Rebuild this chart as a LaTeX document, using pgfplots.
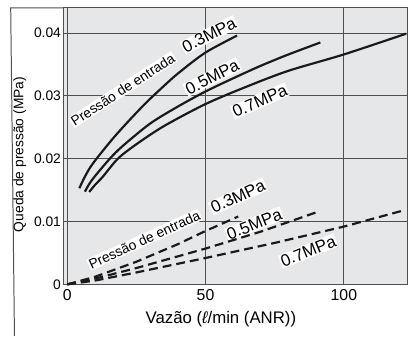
\documentclass[border=0pt]{standalone}
\usepackage{fontspec}
\setmainfont{Liberation Sans}
\usepackage{pgfplots}
\pgfplotsset{compat=1.18}
\definecolor{bggray}{HTML}{E6E7E9}
\definecolor{gridgray}{HTML}{505050}
\definecolor{curve}{HTML}{1A1A1A}
\begin{document}
\begin{tikzpicture}
\begin{axis}[
  scale only axis, width=347bp, height=279bp,
  xmin=-1.36, xmax=122.9, ymin=0, ymax=0.044,
  clip=false,
  scaled y ticks=false, scaled x ticks=false,
  axis background/.style={fill=bggray},
  xtick={0,50,100}, xticklabels={0,50,100},
  ytick={0,0.01,0.02,0.03,0.04}, yticklabels={0,0.01,0.02,0.03,0.04},
  tick style={draw=none},
  grid=major, major grid style={gridgray, line width=1bp},
  axis line style={gridgray, line width=1bp},
  /pgf/number format/assume math mode=true,
  x tick label style={font=\fontsize{16}{18}\selectfont, yshift=-2bp},
  y tick label style={font=\fontsize{14}{16}\selectfont, xshift=1bp},
  every axis x label/.style={at={(axis description cs:0.458,-0.125)}, anchor=center, font=\fontsize{17}{19}\selectfont},
  every axis y label/.style={at={(axis description cs:-0.127,0.47)}, rotate=90, anchor=center, font=\fontsize{14}{16}\selectfont},
  xlabel={Vazão ({\itshape ℓ}/min (ANR))},
  ylabel={Queda de pressão (MPa)},
]
% labels
\node[rotate=33, fill=white, inner sep=1bp, font=\fontsize{14}{16}\selectfont] at (axis cs:20.1,0.0310) {Pressão de entrada};
\node[rotate=27, fill=white, inner sep=1bp, font=\fontsize{17}{19}\selectfont] at (axis cs:51.3,0.0397) {0.3MPa};
\node[rotate=27, fill=white, inner sep=1bp, font=\fontsize{17}{19}\selectfont] at (axis cs:52.4,0.0330) {0.5MPa};
\node[rotate=24, fill=white, inner sep=1bp, font=\fontsize{17}{19}\selectfont] at (axis cs:69.6,0.0292) {0.7MPa};
\node[rotate=24.5, fill=white, inner sep=1bp, font=\fontsize{14}{16}\selectfont] at (axis cs:27.9,0.0071) {Pressão de entrada};
\node[rotate=25, fill=white, inner sep=1bp, font=\fontsize{17}{19}\selectfont] at (axis cs:61.7,0.0140) {0.3MPa};
\node[rotate=22, fill=white, inner sep=1bp, font=\fontsize{17}{19}\selectfont] at (axis cs:67.6,0.0096) {0.5MPa};
\node[rotate=22, fill=white, inner sep=1bp, font=\fontsize{17}{19}\selectfont] at (axis cs:87.1,0.0053) {0.7MPa};
% solid curves
\addplot[curve, line width=2.2bp, smooth] coordinates {
 (4.4,0.0153) (6,0.0168) (8,0.0184) (10.6,0.0200) (16.5,0.0232) (22,0.0259)
 (28.5,0.0289) (35,0.0316) (40.4,0.0337) (50,0.0369) (61.4,0.0396)};
\addplot[curve, line width=2.2bp, smooth] coordinates {
 (6.4,0.01475) (8,0.0160) (10,0.0172) (15.4,0.0200) (20,0.0220) (30,0.0256)
 (40,0.0283) (50,0.0307) (60,0.0328) (70,0.0348) (80,0.0366) (91.5,0.0385)};
\addplot[curve, line width=2.2bp, smooth] coordinates {
 (7.95,0.0147) (10,0.0158) (13,0.0172) (18.3,0.0200) (25,0.0223) (35,0.0252)
 (50,0.0287) (65,0.0315) (80,0.0340) (100,0.0366) (122.5,0.0399)};
% dashed curves
\addplot[curve, line width=2.2bp, dash pattern=on 9bp off 5bp] coordinates {
 (0,0) (10,0.0012) (25,0.0036) (40,0.0064) (50,0.0085) (61.8,0.0108)};
\addplot[curve, line width=2.2bp, dash pattern=on 9bp off 5bp] coordinates {
 (0,0) (10,0.0009) (25,0.0026) (50,0.0057) (70,0.0084) (90.9,0.0116)};
\addplot[curve, line width=2.2bp, dash pattern=on 9bp off 5bp] coordinates {
 (0,0) (10,0.0006) (25,0.0019) (50,0.0042) (75,0.0066) (100,0.0092) (121.8,0.0118)};
% outer frame
\draw[gridgray, line width=1bp] (rel axis cs:0,1) -- ++(-57bp,0) -- ++(0,-331bp);
\path (rel axis cs:0,1) ++(-64bp,8bp) coordinate (tl);
\path (rel axis cs:1,0) ++(2bp,0) coordinate (br);
\end{axis}
\end{tikzpicture}
\end{document}
